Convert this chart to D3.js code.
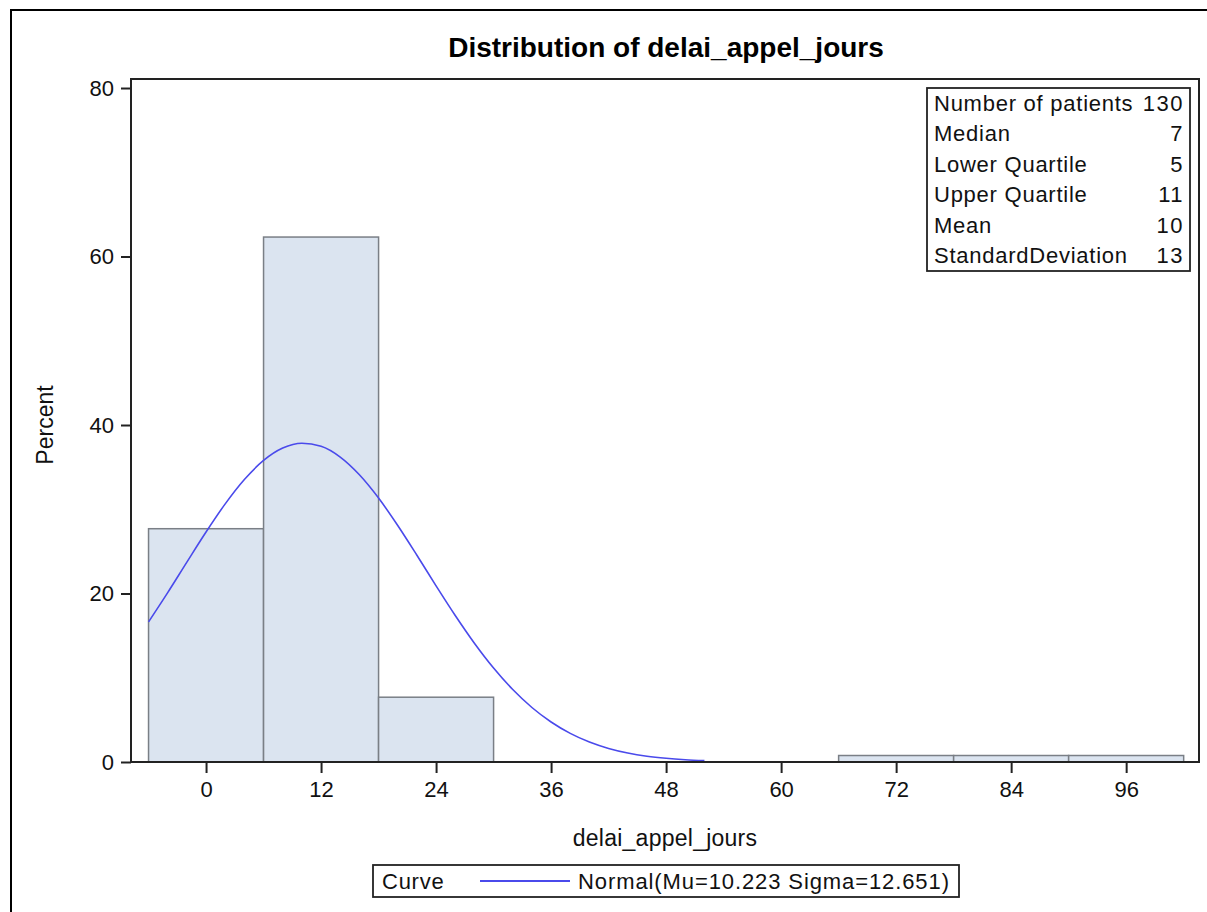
<!DOCTYPE html>
<html>
<head>
<meta charset="utf-8">
<script src="https://cdn.jsdelivr.net/npm/d3@7"></script>
<style>
  body { margin: 0; background: #fff; }
  svg { display: block; font-family: "Liberation Sans", Arial, sans-serif; }
</style>
</head>
<body>
<svg id="chart" width="1207" height="912"></svg>
<script>
// ---- data ----
const binMidpoints = [0, 12, 24, 36, 48, 60, 72, 84, 96];
const binPercents  = [27.69, 62.31, 7.69, 0, 0, 0, 0.77, 0.77, 0.77];
const binWidth = 12;
const xTicks = [0, 12, 24, 36, 48, 60, 72, 84, 96];
const yTicks = [0, 20, 40, 60, 80];
// normal curve (Mu=10.223 Sigma=12.651)
const curveX = [-6,-4,-2,0,2,4,6,8,10,12,14,16,18,20,22,24,26,28,30,32,34,36,38,40,42,44,46,48,50,52];
const curveY = [16.63,20.11,23.73,27.30,30.64,33.53,35.79,37.26,37.83,37.47,36.19,34.09,31.33,28.07,24.54,20.91,17.39,14.10,11.15,8.60,6.47,4.75,3.40,2.37,1.61,1.07,0.69,0.44,0.27,0.16];
const statLabels = ["Number of patients", "Median", "Lower Quartile", "Upper Quartile", "Mean", "StandardDeviation"];
const statValues = ["130", "7", "5", "11", "10", "13"];
const titleText = "Distribution of delai_appel_jours";
const xLabel = "delai_appel_jours";
const yLabel = "Percent";
const legendTitle = "Curve";
const legendEntry = "Normal(Mu=10.223 Sigma=12.651)";

// ---- layout ----
const svg = d3.select("#chart");
const plot = { left: 131, right: 1199, top: 79, bottom: 762 };
const x = d3.scaleLinear().domain([-7.83, 103.6]).range([plot.left, plot.right]);
const y = d3.scaleLinear().domain([0, 81.07]).range([plot.bottom, plot.top]);
const fs = 22;
const ls = "0.75px";

// outer frame
svg.append("path")
  .attr("d", "M11,912 L11,10 L1207,10")
  .attr("fill", "none").attr("stroke", "#000").attr("stroke-width", 2);

// title
svg.append("text")
  .attr("x", 666).attr("y", 57)
  .attr("text-anchor", "middle")
  .attr("font-weight", "bold").attr("font-size", 28)
  .text(titleText);

// bars
const bars = binMidpoints.map((m, i) => ({ m, v: binPercents[i] })).filter(d => d.v > 0);
svg.append("g").selectAll("rect").data(bars).join("rect")
  .attr("x", d => x(d.m - binWidth / 2))
  .attr("y", d => y(d.v))
  .attr("width", d => x(d.m + binWidth / 2) - x(d.m - binWidth / 2))
  .attr("height", d => y(0) - y(d.v))
  .attr("fill", "#dbe4f0")
  .attr("stroke", "#7a7f86").attr("stroke-width", 1.5);

// curve
const line = d3.line().x(d => x(d[0])).y(d => y(d[1])).curve(d3.curveMonotoneX);
svg.append("path")
  .datum(curveX.map((v, i) => [v, curveY[i]]))
  .attr("d", line)
  .attr("fill", "none").attr("stroke", "#4a4aeb").attr("stroke-width", 1.6);

// plot frame
svg.append("rect")
  .attr("x", plot.left).attr("y", plot.top)
  .attr("width", plot.right - plot.left).attr("height", plot.bottom - plot.top)
  .attr("fill", "none").attr("stroke", "#222").attr("stroke-width", 2);

// axes
const xAxis = svg.append("g")
  .attr("transform", `translate(0,${plot.bottom})`)
  .call(d3.axisBottom(x).tickValues(xTicks).tickSize(11).tickPadding(5).tickFormat(d3.format("d")));
const yAxis = svg.append("g")
  .attr("transform", `translate(${plot.left},0)`)
  .call(d3.axisLeft(y).tickValues(yTicks).tickSize(10).tickPadding(7).tickFormat(d3.format("d")));
[xAxis, yAxis].forEach(a => {
  a.select(".domain").remove();
  a.selectAll(".tick line").attr("stroke", "#222").attr("stroke-width", 2);
  a.selectAll(".tick text").attr("font-size", fs).attr("fill", "#111")
    .attr("font-family", "Liberation Sans, Arial, sans-serif");
});
xAxis.selectAll(".tick text").attr("dy", "0.85em");

// axis labels
svg.append("text")
  .attr("x", (plot.left + plot.right) / 2).attr("y", 846)
  .attr("text-anchor", "middle").attr("font-size", fs + 1).attr("fill", "#111")
  .attr("letter-spacing", "0.25px")
  .text(xLabel);
svg.append("text")
  .attr("transform", "translate(53,425) rotate(-90)")
  .attr("text-anchor", "middle").attr("font-size", fs + 1).attr("fill", "#111")
  .text(yLabel);

// stats inset
const inset = { x: 927, y: 88, w: 263, h: 183 };
svg.append("rect")
  .attr("x", inset.x).attr("y", inset.y).attr("width", inset.w).attr("height", inset.h)
  .attr("fill", "#fff").attr("stroke", "#222").attr("stroke-width", 1.8);
const rowStep = 30.4;
svg.append("g").selectAll("text.lab").data(statLabels).join("text")
  .attr("x", inset.x + 7).attr("y", (d, i) => 111 + i * rowStep)
  .attr("font-size", fs).attr("fill", "#111").attr("letter-spacing", ls).text(d => d);
svg.append("g").selectAll("text.val").data(statValues).join("text")
  .attr("x", inset.x + inset.w - 6).attr("y", (d, i) => 111 + i * rowStep)
  .attr("text-anchor", "end").attr("font-size", fs).attr("fill", "#111")
  .attr("letter-spacing", "1.5px").text(d => d);

// legend
const lg = { x: 373, y: 865, w: 586, h: 32 };
svg.append("rect")
  .attr("x", lg.x).attr("y", lg.y).attr("width", lg.w).attr("height", lg.h)
  .attr("fill", "#fff").attr("stroke", "#222").attr("stroke-width", 1.8);
svg.append("text").attr("x", 382).attr("y", 889).attr("font-size", fs).attr("fill", "#111")
  .attr("letter-spacing", ls).text(legendTitle);
svg.append("line").attr("x1", 480).attr("x2", 570).attr("y1", 881).attr("y2", 881)
  .attr("stroke", "#4a4aeb").attr("stroke-width", 1.8);
svg.append("text").attr("x", 578).attr("y", 889).attr("font-size", fs).attr("fill", "#111")
  .attr("letter-spacing", "0.9px").text(legendEntry);
</script>
</body>
</html>
